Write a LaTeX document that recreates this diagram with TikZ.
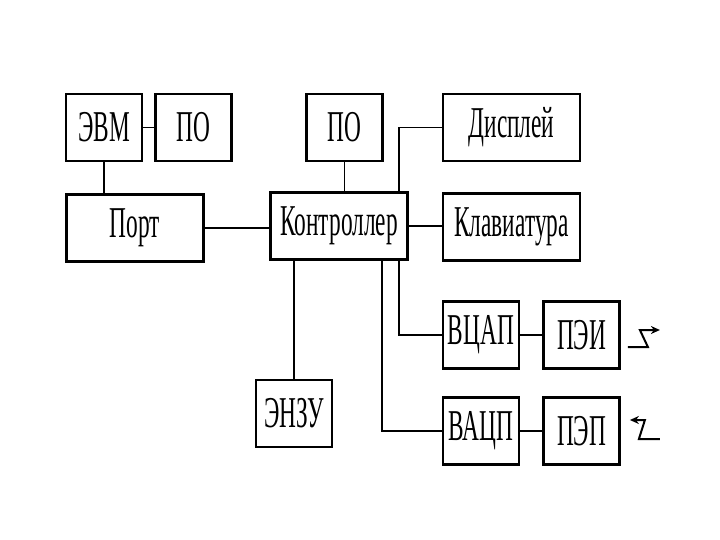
\documentclass[tikz,border=0pt]{standalone}
\usepackage{fontspec}
\newfontfamily\boxfont{Liberation Serif}[FakeStretch=0.53]
\usetikzlibrary{arrows.meta,positioning,calc}

\begin{document}
\begin{tikzpicture}[
  x=1pt, y=-1pt,
  >={Stealth[length=9pt,width=8pt]},
  box/.style={draw, line width=2.6pt, minimum height=67pt,
              minimum width=76pt, inner sep=0pt, align=center,
              font={\boxfont\fontsize{44}{46}\selectfont}},
  wide/.style={minimum width=137pt},
  link/.style={line width=1.5pt},
  bus/.style={line width=2.6pt},
  sig/.style={line width=2pt},
]
\useasboundingbox[fill=white] (0,0) rectangle (720,540);

% Computer side
\node[box] (evm) at (104,127.5) {ЭВМ};
\node[box, right=11pt of evm] (po1) {ПО};
\node[box, wide] (port) at (135,228) {Порт};

% Controller and its memory / program
\node[box, wide] (ctrl) at (339,226) {Контроллер};
\node[box] (po2) at (344.5,127.5) {ПО};
\node[box] (enzu) at (294,413.5) {ЭНЗУ};

% Operator devices
\node[box, wide] (disp) at (511.5,127.5) {Дисплей};
\node[box, wide] (kbd) at (511.5,227) {Клавиатура};

% Converters (DAC / ADC) and transducers
\node[box] (vcap) at (481,335) {ВЦАП};
\node[box, right=22pt of vcap] (pei) {ПЭИ};
\node[box] (vacp) at (481,431) {ВАЦП};
\node[box, right=22pt of vacp] (pep) {ПЭП};

% connections
\draw[link] (evm) -- (po1);
\draw[link] (evm.south) -- (evm.south |- port.north);
\draw[link] (port) -- (port -| ctrl.west);
\draw[link] (po2.south) -- (po2.south |- ctrl.north);
\draw[link] (enzu.north) -- (enzu.north |- ctrl.south);
\draw[link] ($(ctrl.north east)+(-10,0)$) |- (disp.west);
\draw[link] (ctrl.east) -- (ctrl.east -| kbd.west);
\draw[link] ($(ctrl.south east)+(-10,0)$) |- (vcap.west);
\draw[bus] ($(ctrl.south east)+(-27,0)$) |- (vacp.west);
\draw[bus] (vcap) -- (pei);
\draw[bus] (vacp) -- (pep);

% output / input signal marks
\coordinate (outsig) at ($(pei.east)+(7,12)$);
\coordinate (insig) at ($(pep.east)+(39,8)$);
\draw[sig, ->] (outsig) -- ++(20,0) -- ++(-8,-17) -- ++(20,0);
\draw[sig, ->] (insig) -- ++(-21,0) -- ++(6,-19) -- ++(-15,0);

\end{tikzpicture}
\end{document}
